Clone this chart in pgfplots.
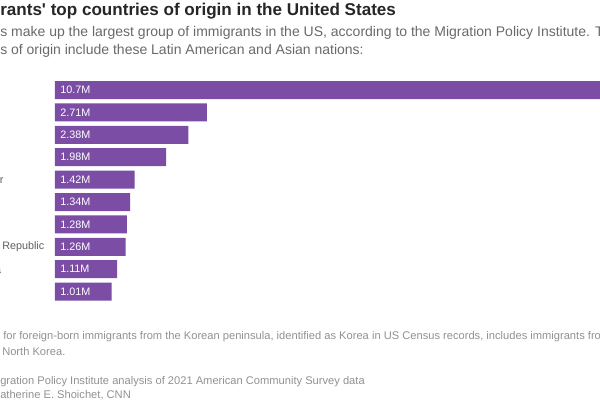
\documentclass[border=0pt]{standalone}
\usepackage{pgfplots}
\pgfplotsset{compat=1.18}
\usepackage{pgfplotstable}
\usepackage{fontspec}
\setmainfont{Liberation Sans}
\definecolor{barpurple}{RGB}{123,77,164}
\definecolor{titlegray}{RGB}{38,38,38}
\definecolor{subgray}{RGB}{105,105,105}
\definecolor{notegray}{RGB}{145,145,145}
\definecolor{labgray}{RGB}{95,95,95}
\pgfplotstableread[col sep=comma]{
idx,val,zero,lab
0,10.7,0,10.7M
1,2.71,0,2.71M
2,2.38,0,2.38M
3,1.98,0,1.98M
4,1.42,0,1.42M
5,1.34,0,1.34M
6,1.28,0,1.28M
7,1.26,0,1.26M
8,1.11,0,1.11M
9,1.01,0,1.01M
}\datatable
\begin{document}
\begin{tikzpicture}
\path[use as bounding box, clip] (0pt,0pt) rectangle (450pt,-300pt);
% title and subtitle (1px = 0.75pt)
\node[anchor=base west, inner sep=0pt, text=titlegray,
  font=\fontsize{12.8}{15}\selectfont\bfseries] at (0pt,-11.25pt)
  {rants\textquotesingle{} top countries of origin in the United States};
\node[anchor=base west, inner sep=0pt, text=subgray,
  font=\fontsize{10.5}{12}\selectfont] at (0pt,-27pt)
  {s make up the largest group of immigrants in the US, according to the Migration Policy Institute. The};
\node[anchor=base west, inner sep=0pt, text=subgray,
  font=\fontsize{10.5}{12}\selectfont] at (0pt,-40.5pt)
  {s of origin include these Latin American and Asian nations:};
\begin{axis}[
  at={(41.25pt,-59.1pt)}, anchor=north west,
  scale only axis, width=450pt, height=168pt,
  xmin=0, xmax=10.7, ymin=-0.5, ymax=9.5, y dir=reverse,
  axis line style={draw=none}, tick style={draw=none},
  xtick=\empty, ytick={0,...,9},
  yticklabels={Mexico,India,China,Philippines,El Salvador,Vietnam,Cuba,Dominican Republic,Guatemala,Korea},
  yticklabel style={anchor=west, inner sep=0pt, xshift=-80.25pt,
    font=\fontsize{8.1}{9.6}\selectfont, text=labgray},
  clip=false,
]
\addplot[xbar, bar width=13.5pt, fill=barpurple, draw=none]
  table[x=val, y=idx] {\datatable};
\addplot[draw=none, mark=none, nodes near coords, point meta=explicit symbolic,
  nodes near coords align={anchor=west},
  every node near coord/.append style={anchor=west, inner sep=0pt, xshift=3.75pt,
    font=\fontsize{8.1}{9.6}\selectfont, text=white}]
  table[x=zero, y=idx, meta=lab] {\datatable};
\end{axis}
% notes
\node[anchor=base west, inner sep=0pt, text=notegray,
  font=\fontsize{8.35}{10}\selectfont] at (2.25pt,-254.25pt)
  {for foreign-born immigrants from the Korean peninsula, identified as Korea in US Census records, includes immigrants from South Korea and};
\node[anchor=base west, inner sep=0pt, text=notegray,
  font=\fontsize{8.35}{10}\selectfont] at (1.5pt,-266.25pt)
  {North Korea.};
\node[anchor=base west, inner sep=0pt, text=notegray,
  font=\fontsize{8.35}{10}\selectfont] at (0pt,-288pt)
  {gration Policy Institute analysis of 2021 American Community Survey data};
\node[anchor=base west, inner sep=0pt, text=notegray,
  font=\fontsize{8.35}{10}\selectfont] at (0pt,-298.5pt)
  {atherine E. Shoichet, CNN};
\end{tikzpicture}
\end{document}
